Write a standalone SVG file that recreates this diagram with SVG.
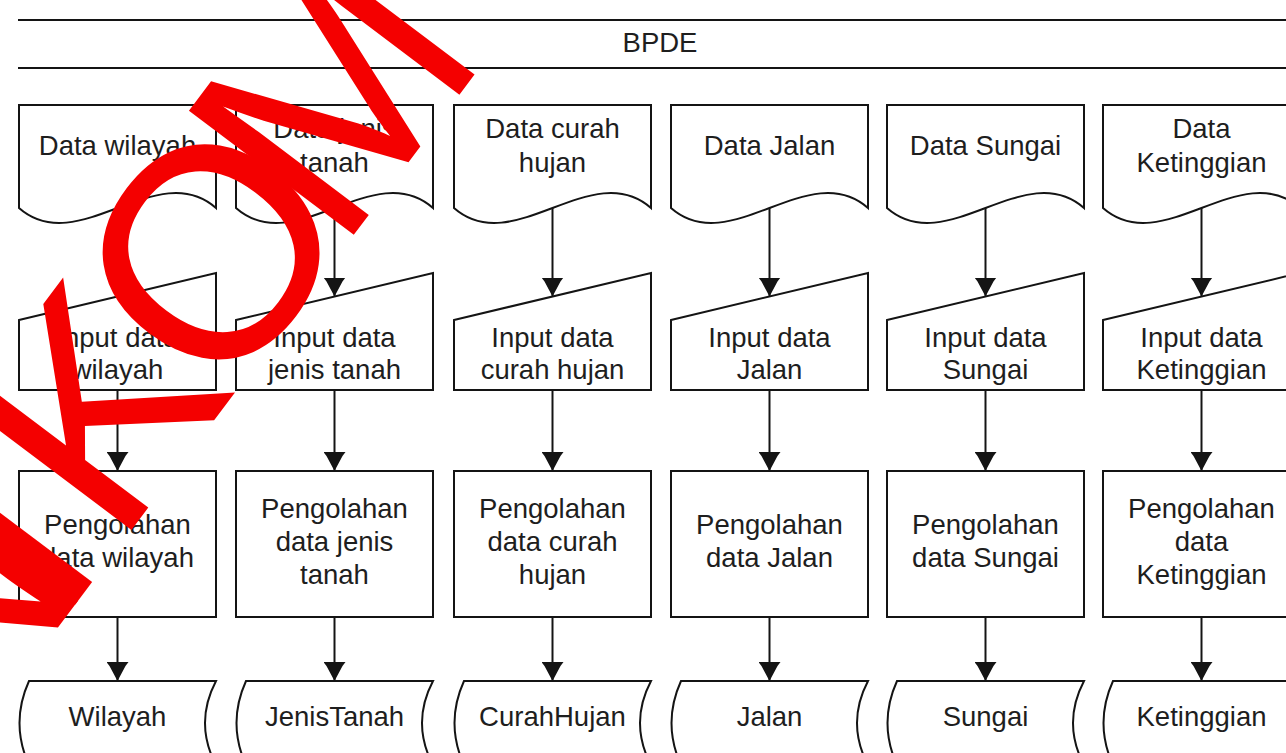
<svg xmlns="http://www.w3.org/2000/svg" width="1286" height="753" viewBox="0 0 1286 753">
  <style>
    .shape { fill: #ffffff; stroke: #141414; stroke-width: 2; }
    .edge { fill: none; stroke: #141414; stroke-width: 2; }
    .wire { fill: none; stroke: #141414; stroke-width: 2; marker-end: url(#head); }
    .lbl { font-family: "Liberation Sans", Arial, sans-serif; font-size: 27.5px; fill: #1e1e1e; text-anchor: middle; }
    .mark { font-family: "Liberation Sans", Arial, sans-serif; font-size: 300px; letter-spacing: -22px; fill: #f40000; }
  </style>
  <defs>
    <marker id="head" viewBox="0 -11 19 22" refX="19" refY="0" markerWidth="19" markerHeight="22" markerUnits="userSpaceOnUse" orient="auto">
      <path d="M0,-11 L4,-8 L19,0 L4,8 L0,11 Z" fill="#141414"/>
    </marker>
  </defs>
  <rect width="1286" height="753" fill="#ffffff"/>

  <!-- swimlane header -->
  <g id="lane-bpde">
    <line class="edge" x1="18" y1="20" x2="1286" y2="20"/>
    <line class="edge" x1="18" y1="68" x2="1286" y2="68"/>
    <text class="lbl" x="660" y="52">BPDE</text>
  </g>

  <!-- column 1: wilayah -->
  <g id="doc-wilayah">
    <path class="shape" d="M19,105 H216 V208 C156.9,156 78.1,260 19,208 Z"/>
    <text class="lbl" x="117.5" y="155">Data wilayah</text>
  </g>
  <g id="input-wilayah">
    <path class="shape" d="M19,320 L216,273 V390 H19 Z"/>
    <text class="lbl" x="117.5" y="347">Input data<tspan x="117.5" dy="32">wilayah</tspan></text>
  </g>
  <g id="proc-wilayah">
    <rect class="shape" x="19" y="471" width="197" height="146"/>
    <text class="lbl" x="117.5" y="534">Pengolahan<tspan x="117.5" dy="33">data wilayah</tspan></text>
  </g>
  <g id="store-wilayah">
    <path class="shape" d="M29,681 H216 Q194,723 216,765 H29 Q10,723 29,681 Z"/>
    <text class="lbl" x="117.5" y="726">Wilayah</text>
  </g>

  <!-- column 2: jenis tanah -->
  <g id="doc-jenis-tanah">
    <path class="shape" d="M236,105 H433 V208 C373.9,156 295.1,260 236,208 Z"/>
    <text class="lbl" x="334.5" y="138">Data jenis<tspan x="334.5" dy="34">tanah</tspan></text>
  </g>
  <g id="input-jenis-tanah">
    <path class="shape" d="M236,320 L433,273 V390 H236 Z"/>
    <text class="lbl" x="334.5" y="347">Input data<tspan x="334.5" dy="32">jenis tanah</tspan></text>
  </g>
  <g id="proc-jenis-tanah">
    <rect class="shape" x="236" y="471" width="197" height="146"/>
    <text class="lbl" x="334.5" y="518">Pengolahan<tspan x="334.5" dy="33">data jenis</tspan><tspan x="334.5" dy="33">tanah</tspan></text>
  </g>
  <g id="store-jenis-tanah">
    <path class="shape" d="M246,681 H433 Q411,723 433,765 H246 Q227,723 246,681 Z"/>
    <text class="lbl" x="334.5" y="726">JenisTanah</text>
  </g>

  <!-- column 3: curah hujan -->
  <g id="doc-curah-hujan">
    <path class="shape" d="M454,105 H651 V208 C591.9,156 513.1,260 454,208 Z"/>
    <text class="lbl" x="552.5" y="138">Data curah<tspan x="552.5" dy="34">hujan</tspan></text>
  </g>
  <g id="input-curah-hujan">
    <path class="shape" d="M454,320 L651,273 V390 H454 Z"/>
    <text class="lbl" x="552.5" y="347">Input data<tspan x="552.5" dy="32">curah hujan</tspan></text>
  </g>
  <g id="proc-curah-hujan">
    <rect class="shape" x="454" y="471" width="197" height="146"/>
    <text class="lbl" x="552.5" y="518">Pengolahan<tspan x="552.5" dy="33">data curah</tspan><tspan x="552.5" dy="33">hujan</tspan></text>
  </g>
  <g id="store-curah-hujan">
    <path class="shape" d="M464,681 H651 Q629,723 651,765 H464 Q445,723 464,681 Z"/>
    <text class="lbl" x="552.5" y="726">CurahHujan</text>
  </g>

  <!-- column 4: jalan -->
  <g id="doc-jalan">
    <path class="shape" d="M671,105 H868 V208 C808.9,156 730.1,260 671,208 Z"/>
    <text class="lbl" x="769.5" y="155">Data Jalan</text>
  </g>
  <g id="input-jalan">
    <path class="shape" d="M671,320 L868,273 V390 H671 Z"/>
    <text class="lbl" x="769.5" y="347">Input data<tspan x="769.5" dy="32">Jalan</tspan></text>
  </g>
  <g id="proc-jalan">
    <rect class="shape" x="671" y="471" width="197" height="146"/>
    <text class="lbl" x="769.5" y="534">Pengolahan<tspan x="769.5" dy="33">data Jalan</tspan></text>
  </g>
  <g id="store-jalan">
    <path class="shape" d="M681,681 H868 Q846,723 868,765 H681 Q662,723 681,681 Z"/>
    <text class="lbl" x="769.5" y="726">Jalan</text>
  </g>

  <!-- column 5: sungai -->
  <g id="doc-sungai">
    <path class="shape" d="M887,105 H1084 V208 C1024.9,156 946.1,260 887,208 Z"/>
    <text class="lbl" x="985.5" y="155">Data Sungai</text>
  </g>
  <g id="input-sungai">
    <path class="shape" d="M887,320 L1084,273 V390 H887 Z"/>
    <text class="lbl" x="985.5" y="347">Input data<tspan x="985.5" dy="32">Sungai</tspan></text>
  </g>
  <g id="proc-sungai">
    <rect class="shape" x="887" y="471" width="197" height="146"/>
    <text class="lbl" x="985.5" y="534">Pengolahan<tspan x="985.5" dy="33">data Sungai</tspan></text>
  </g>
  <g id="store-sungai">
    <path class="shape" d="M897,681 H1084 Q1062,723 1084,765 H897 Q878,723 897,681 Z"/>
    <text class="lbl" x="985.5" y="726">Sungai</text>
  </g>

  <!-- column 6: ketinggian -->
  <g id="doc-ketinggian">
    <path class="shape" d="M1103,105 H1300 V208 C1240.9,156 1162.1,260 1103,208 Z"/>
    <text class="lbl" x="1201.5" y="138">Data<tspan x="1201.5" dy="34">Ketinggian</tspan></text>
  </g>
  <g id="input-ketinggian">
    <path class="shape" d="M1103,320 L1300,273 V390 H1103 Z"/>
    <text class="lbl" x="1201.5" y="347">Input data<tspan x="1201.5" dy="32">Ketinggian</tspan></text>
  </g>
  <g id="proc-ketinggian">
    <rect class="shape" x="1103" y="471" width="197" height="146"/>
    <text class="lbl" x="1201.5" y="518">Pengolahan<tspan x="1201.5" dy="33">data</tspan><tspan x="1201.5" dy="33">Ketinggian</tspan></text>
  </g>
  <g id="store-ketinggian">
    <path class="shape" d="M1113,681 H1300 Q1278,723 1300,765 H1113 Q1094,723 1113,681 Z"/>
    <text class="lbl" x="1201.5" y="726">Ketinggian</text>
  </g>

  <!-- connectors -->
  <g id="connectors">
    <path class="wire" d="M117.5,208 V296.5"/>
    <path class="wire" d="M117.5,390 V471"/>
    <path class="wire" d="M117.5,617 V681"/>
    <path class="wire" d="M334.5,208 V296.5"/>
    <path class="wire" d="M334.5,390 V471"/>
    <path class="wire" d="M334.5,617 V681"/>
    <path class="wire" d="M552.5,208 V296.5"/>
    <path class="wire" d="M552.5,390 V471"/>
    <path class="wire" d="M552.5,617 V681"/>
    <path class="wire" d="M769.5,208 V296.5"/>
    <path class="wire" d="M769.5,390 V471"/>
    <path class="wire" d="M769.5,617 V681"/>
    <path class="wire" d="M985.5,208 V296.5"/>
    <path class="wire" d="M985.5,390 V471"/>
    <path class="wire" d="M985.5,617 V681"/>
    <path class="wire" d="M1201.5,208 V296.5"/>
    <path class="wire" d="M1201.5,390 V471"/>
    <path class="wire" d="M1201.5,617 V681"/>
  </g>

  <!-- red diagonal stamp across the upper left -->
  <g id="stamp">
    <text class="mark" transform="translate(-154.6,909.5) rotate(-53)" dx="0 0 -35 35 0 -20">UNIKOM</text>
  </g>
</svg>
